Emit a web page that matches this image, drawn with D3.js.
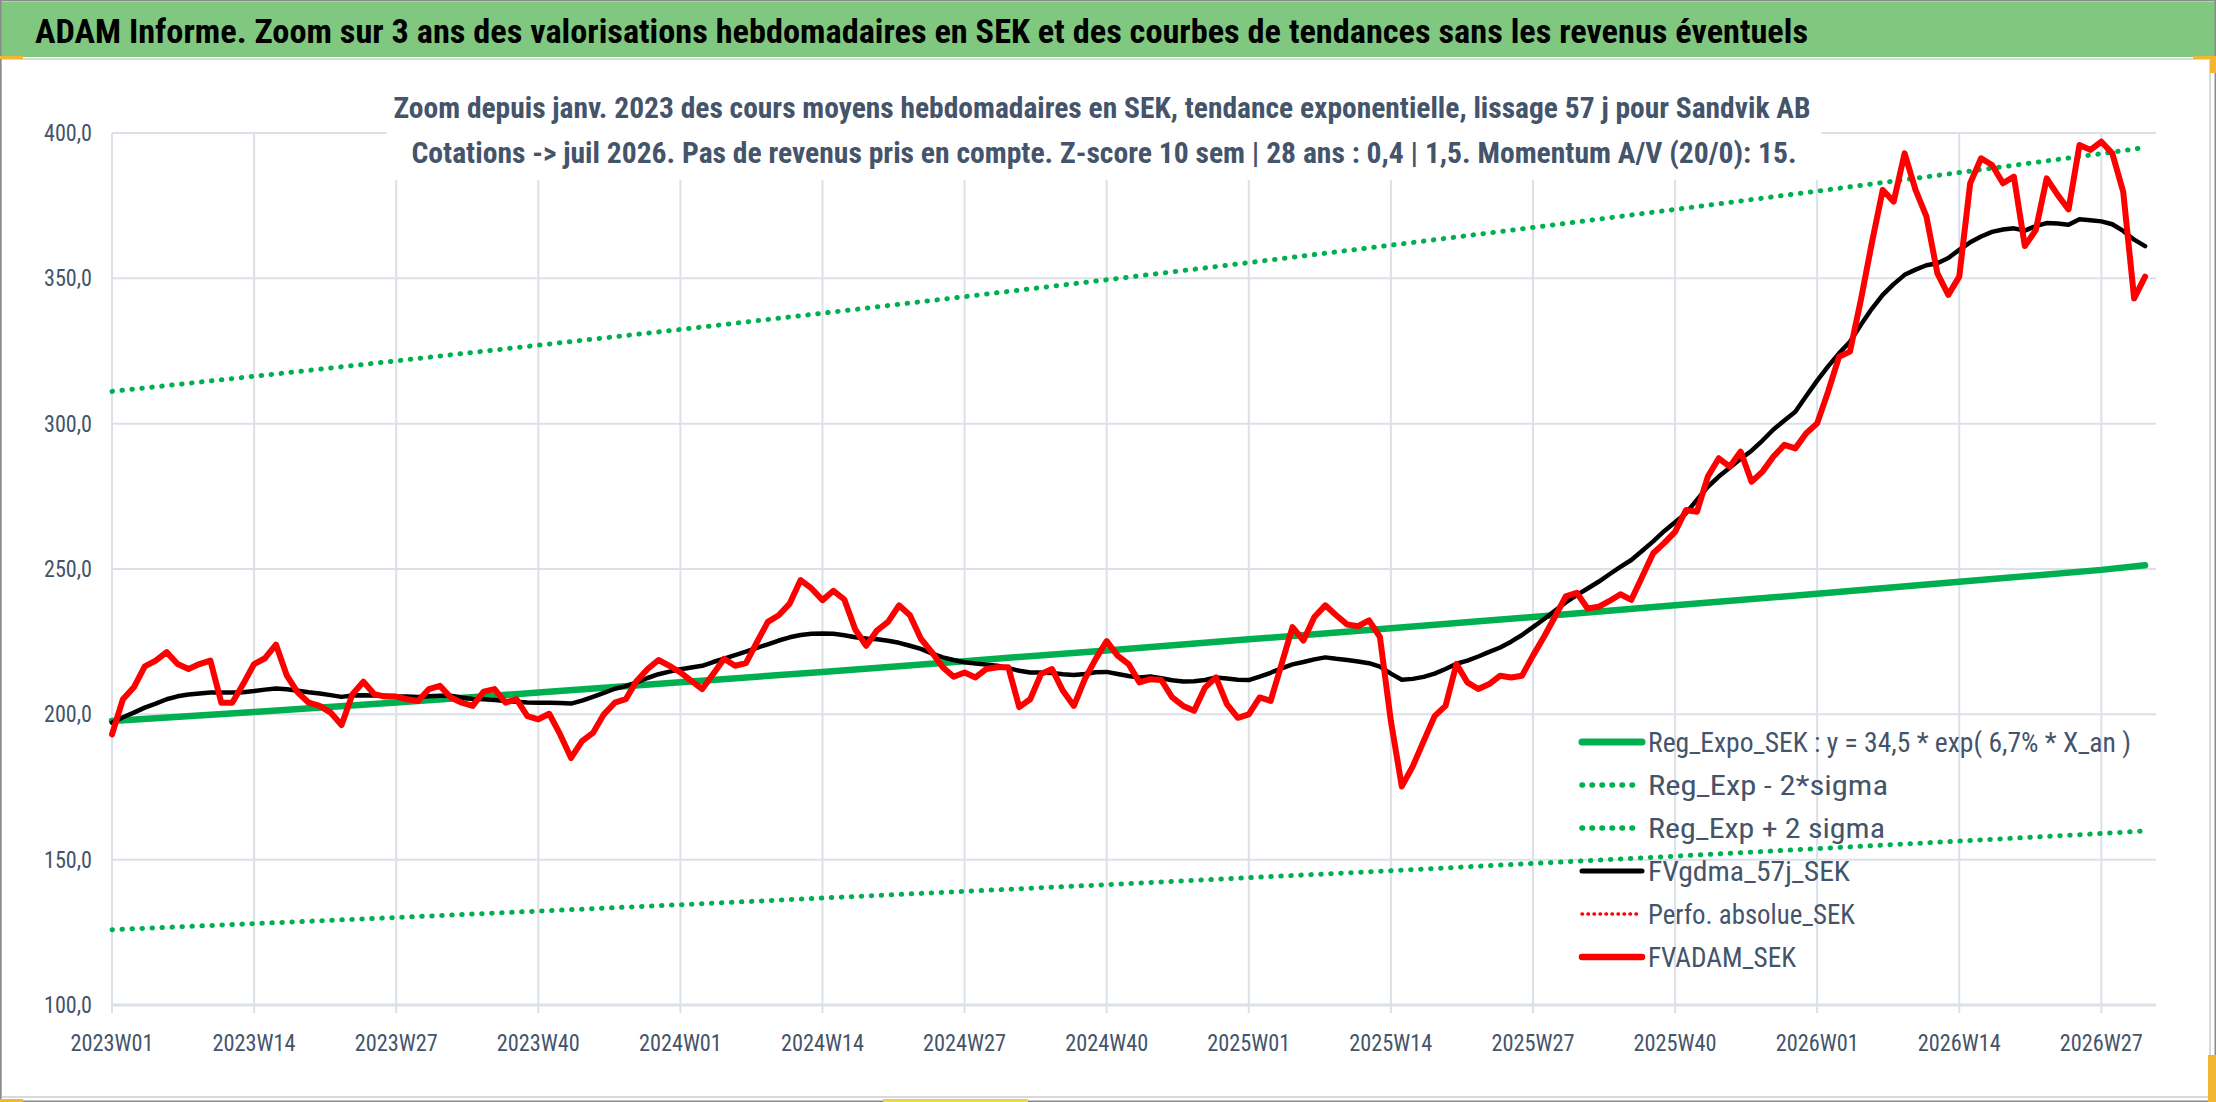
<!DOCTYPE html>
<html>
<head>
<meta charset="utf-8">
<script src="https://cdn.jsdelivr.net/npm/d3@7/dist/d3.min.js"></script>
<style>
  body { margin: 0; background: #fff; }
  svg { display: block; }
</style>
</head>
<body>
<svg id="chart" width="2216" height="1102"></svg>
<script>
// ---- data ----------------------------------------------------------------

// weekly categories 2023W01 .. 2026W32 (52 weeks a year)
let categories = [];
for (let yr = 2023; yr <= 2026; yr++) {
    for (let w = 1; w <= 52; w++) {
        if (yr == 2026 && w > 32) break;
        categories.push(yr + "W" + (w < 10 ? "0" + w : w));
    }
}

const tickLabels = ["2023W01", "2023W14", "2023W27", "2023W40", "2024W01", "2024W14", "2024W27",
    "2024W40", "2025W01", "2025W14", "2025W27", "2025W40", "2026W01", "2026W14", "2026W27"];

const yTicks = [100, 150, 200, 250, 300, 350, 400];

// FVADAM_SEK, one value per week from 2023W01
const fvadam = [
    193.1, 205.2, 209.3, 216.5, 218.5, 221.4, 217.3, 215.6, 217.3, 218.5,
    204.0, 204.0, 210.4, 217.3, 219.3, 224.0, 213.3, 207.5, 204.0, 202.9,
    200.6, 196.3, 206.9, 211.2, 206.9, 206.1, 206.1, 205.2, 204.6, 208.7,
    209.8, 205.8, 204.0, 202.9, 207.8, 208.7, 204.0, 205.2, 199.4, 198.3,
    200.2, 193.1, 185.0, 190.8, 193.6, 200.0, 204.0, 205.2, 211.5, 215.6,
    218.7, 216.7, 214.4, 211.5, 208.7, 213.9, 219.1, 216.7, 217.6, 224.8,
    231.8, 234.1, 238.1, 246.2, 243.3, 239.3, 242.5, 239.5, 229.2, 223.6,
    228.9, 231.8, 237.5, 234.1, 226.0, 221.4, 216.2, 212.9, 214.4, 212.7,
    215.6, 216.2, 216.2, 202.5, 205.2, 213.9, 215.6, 208.1, 202.9, 212.1,
    219.1, 225.2, 220.2, 217.3, 211.0, 212.1, 211.8, 205.8, 202.9, 201.2,
    209.2, 212.7, 203.5, 198.8, 200.0, 205.8, 204.6, 217.3, 230.0, 225.4,
    233.5, 237.5, 234.1, 230.9, 230.3, 232.3, 226.6, 197.7, 175.2, 182.1,
    190.8, 199.4, 202.9, 217.3, 211.0, 208.7, 210.4, 213.3, 212.7, 213.3,
    220.2, 226.6, 233.5, 240.6, 241.8, 236.4, 237.0, 239.0, 241.3, 239.4,
    247.4, 255.4, 258.9, 262.8, 270.3, 269.7, 281.8, 288.1, 285.2, 290.4,
    280.0, 283.5, 288.7, 292.7, 291.5, 296.7, 300.1, 311.0, 323.0, 324.8,
    342.6, 362.1, 380.4, 376.4, 393.0, 380.4, 371.2, 351.7, 344.3, 350.6,
    382.7, 391.3, 389.0, 382.7, 385.0, 361.1, 366.6, 384.4, 378.7, 373.7,
    395.9, 394.2, 397.0, 393.0, 379.8, 343.1, 350.6
];

// FVgdma_57j_SEK (smoothed), same weeks
const fvgdma = [
    197.1, 199.0, 200.6, 202.3, 203.7, 205.2, 206.2, 206.8, 207.2, 207.5,
    207.5, 207.5, 207.6, 208.0, 208.5, 208.9, 208.6, 208.1, 207.6, 207.2,
    206.6, 206.0, 206.5, 206.6, 206.5, 206.4, 206.2, 206.1, 206.0, 206.2,
    206.4, 206.4, 205.8, 205.3, 205.2, 204.9, 204.6, 204.3, 204.1, 204.0,
    204.0, 203.9, 203.7, 204.7, 206.0, 207.4, 208.8, 209.7, 211.0, 212.5,
    213.8, 214.7, 215.5, 216.1, 216.7, 218.0, 219.2, 220.4, 221.6, 222.9,
    224.1, 225.4, 226.5, 227.3, 227.7, 227.8, 227.7, 227.2, 226.5, 226.1,
    225.8, 225.3, 224.6, 223.6, 222.5, 221.0, 219.6, 218.7, 217.9, 217.5,
    217.1, 216.7, 215.9, 215.0, 214.4, 214.4, 214.2, 213.8, 213.5, 213.9,
    214.5, 214.6, 213.9, 213.2, 212.7, 213.0, 212.4, 211.7, 211.3, 211.4,
    211.8, 212.7, 212.3, 211.9, 211.8, 213.0, 214.3, 215.8, 217.2, 218.0,
    218.9, 219.6, 219.1, 218.7, 218.2, 217.6, 216.4, 214.0, 211.9, 212.2,
    212.9, 214.0, 215.6, 217.4, 218.5, 219.9, 221.5, 223.0, 225.0, 227.3,
    230.0, 232.7, 235.6, 238.5, 241.0, 243.3, 245.6, 248.2, 250.7, 253.1,
    256.3, 259.5, 263.0, 266.1, 269.2, 273.8, 278.3, 281.8, 284.8, 287.9,
    290.7, 294.2, 298.0, 301.1, 304.1, 309.5, 314.8, 319.7, 324.2, 328.2,
    334.0, 339.5, 344.3, 348.0, 351.2, 353.0, 354.5, 355.2, 357.0, 359.8,
    362.4, 364.4, 366.0, 366.8, 367.2, 366.4, 368.0, 369.0, 368.9, 368.4,
    370.3, 370.0, 369.6, 368.6, 366.3, 363.3, 361.1
];

// regression curves, read at the tick weeks and at the last week
const trendWeeks = ["2023W01", "2023W14", "2023W27", "2023W40", "2024W01", "2024W14", "2024W27",
    "2024W40", "2025W01", "2025W14", "2025W27", "2025W40", "2026W01", "2026W14", "2026W27", "2026W31"];
const regExpo = [197.7, 200.8, 204.1, 207.5, 211.0, 214.6, 218.3, 222.0, 225.8, 229.6, 233.5, 237.5, 241.5, 245.6, 249.7, 251.3];
const regPlus = [311.1, 316.3, 321.6, 327.0, 332.4, 338.0, 343.7, 349.5, 355.4, 361.4, 367.5, 373.7, 380.0, 386.4, 392.9, 395.0];
const regMinus = [125.9, 128.0, 130.1, 132.3, 134.5, 136.8, 139.1, 141.4, 143.8, 146.2, 148.7, 151.2, 153.8, 156.4, 159.0, 159.9];

const legendNames = ["Reg_Expo_SEK : y = 34,5 * exp( 6,7% *  X_an )", "Reg_Exp - 2*sigma", "Reg_Exp + 2 sigma",
    "FVgdma_57j_SEK", "Perfo. absolue_SEK", "FVADAM_SEK"];

const titleText = "ADAM Informe. Zoom sur 3 ans des valorisations hebdomadaires en SEK et des courbes de tendances sans les revenus éventuels";
const subLines = ["Zoom depuis janv. 2023 des cours moyens hebdomadaires en SEK, tendance exponentielle, lissage 57 j pour Sandvik AB",
    "Cotations -> juil 2026. Pas de revenus pris en compte. Z-score 10 sem | 28 ans : 0,4 | 1,5. Momentum A/V (20/0): 15."];

// ---- drawing -------------------------------------------------------------

const FONT = "'Liberation Sans Narrow','Roboto Condensed','DejaVu Sans Condensed','Liberation Sans',sans-serif";
const TXT = "#44546A";
const GREEN = "#00B050";
const GRID = "#DCE0E7";

let svg = d3.select("#chart").style("font-family", FONT);

// squeeze a text to the width measured on the picture
function fit(sel, w) {
    sel.attr("textLength", w).attr("lengthAdjust", "spacingAndGlyphs");
}

// frame, title band
svg.append("rect").attr("x", 0).attr("y", 0).attr("width", 2216).attr("height", 1102).attr("fill", "#fff");
svg.append("rect").attr("x", 1).attr("y", 59).attr("width", 2209).attr("height", 1038)
    .attr("fill", "#fff").attr("stroke", "#D9D9D9").attr("stroke-width", 2);
svg.append("rect").attr("x", 0).attr("y", 2).attr("width", 2216).attr("height", 55).attr("fill", "#80C87F");
svg.append("rect").attr("x", 0).attr("y", 0).attr("width", 2216).attr("height", 1102)
    .attr("fill", "none").attr("stroke", "#8A8A8A").attr("stroke-width", 3);

// cell selection marks around the sheet
let marks = [[0, 56, 23, 3, "#F2B632"], [2193, 56, 23, 3, "#F2B632"], [2210, 56, 6, 17, "#F2B632"],
    [0, 1099, 23, 3, "#F2B632"], [883, 1099, 145, 3, "#E6D84A"], [2208, 1055, 8, 47, "#F2B632"]];
svg.selectAll(".mark").data(marks).enter().append("rect")
    .attr("x", d => d[0]).attr("y", d => d[1]).attr("width", d => d[2]).attr("height", d => d[3])
    .attr("fill", d => d[4]);

svg.append("text").attr("x", 35).attr("y", 43)
    .attr("font-size", 33).attr("font-weight", "bold").attr("fill", "#000")
    .text(titleText).call(fit, 1773);

// scales
let x = d3.scalePoint().domain(categories).range([112, 2156]);
let y = d3.scaleLinear().domain([100, 400]).range([1005, 133]);

// gridlines
let g = svg.append("g");
g.selectAll(".hgrid").data(yTicks).enter().append("line")
    .attr("x1", 112).attr("x2", 2156)
    .attr("y1", d => y(d)).attr("y2", d => y(d))
    .attr("stroke", GRID).attr("stroke-width", d => d == 100 ? 3 : 2);
g.selectAll(".vgrid").data(tickLabels).enter().append("line")
    .attr("x1", d => x(d)).attr("x2", d => x(d))
    .attr("y1", 133).attr("y2", 1013)
    .attr("stroke", GRID).attr("stroke-width", 2);

// axis labels
g.selectAll(".ylab").data(yTicks).enter().append("text")
    .attr("x", 92).attr("y", d => y(d) + 8)
    .attr("text-anchor", "end").attr("font-size", 23).attr("fill", TXT)
    .text(d => d3.format(".1f")(d).replace(".", ","))
    .each(function() { d3.select(this).call(fit, 48); });
g.selectAll(".xlab").data(tickLabels).enter().append("text")
    .attr("x", d => x(d)).attr("y", 1051)
    .attr("text-anchor", "middle").attr("font-size", 24).attr("fill", TXT)
    .text(d => d)
    .each(function() { d3.select(this).call(fit, 83); });

// subtitle sits on a white box over the grid
svg.append("rect").attr("x", 387).attr("y", 78).attr("width", 1434).attr("height", 102).attr("fill", "#fff");
svg.append("text").attr("x", 1102).attr("y", 118).attr("text-anchor", "middle")
    .attr("font-size", 29).attr("font-weight", "bold").attr("fill", TXT)
    .text(subLines[0]).call(fit, 1417);
svg.append("text").attr("x", 1104).attr("y", 163).attr("text-anchor", "middle")
    .attr("font-size", 29).attr("font-weight", "bold").attr("fill", TXT)
    .text(subLines[1]).call(fit, 1385);

// series
let line = d3.line().x(d => x(d[0])).y(d => y(d[1]));
let trend = vals => trendWeeks.map((c, i) => [c, vals[i]]);
let weekly = vals => vals.map((v, i) => [categories[i], v]);

let styles = [
    { w: 6.5, c: GREEN, dash: null },
    { w: 5, c: GREEN, dash: "0.5 9.5" },
    { w: 5, c: GREEN, dash: "0.5 9.5" },
    { w: 4.5, c: "#000", dash: null },
    { w: 3, c: "#FF0000", dash: "0.5 5.5" },
    { w: 6, c: "#FF0000", dash: null }
];
let series = [trend(regExpo), trend(regMinus), trend(regPlus), weekly(fvgdma), null, weekly(fvadam)];

series.forEach(function(s, i) {
    if (!s) return;
    svg.append("path").attr("d", line(s))
        .attr("fill", "none").attr("stroke", styles[i].c).attr("stroke-width", styles[i].w)
        .attr("stroke-linejoin", "round").attr("stroke-linecap", "round")
        .attr("stroke-dasharray", styles[i].dash);
});

// legend, no box
let legendWidths = [483, 240, 237, 202, 207, 148];
let leg = svg.append("g").selectAll("g").data(legendNames).enter().append("g")
    .attr("transform", (d, i) => "translate(1580," + (742 + i * 43) + ")");
leg.append("line").attr("x1", 2).attr("x2", 62).attr("y1", 0).attr("y2", 0)
    .attr("stroke", (d, i) => styles[i].c).attr("stroke-width", (d, i) => styles[i].w + 0.5)
    .attr("stroke-linecap", "round").attr("stroke-dasharray", (d, i) => styles[i].dash);
leg.append("text").attr("x", 68).attr("y", 10)
    .attr("font-size", 28).attr("fill", TXT)
    .text(d => d)
    .each(function(d, i) { d3.select(this).call(fit, legendWidths[i]); });
</script>
</body>
</html>
